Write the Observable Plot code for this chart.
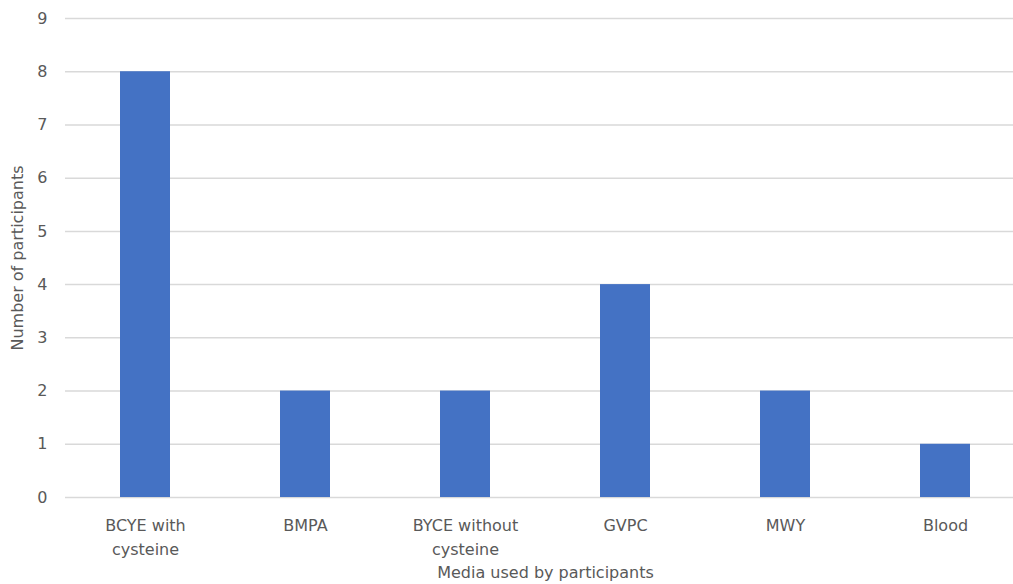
<!DOCTYPE html>
<html>
<head>
<meta charset="utf-8">
<script src="https://cdn.jsdelivr.net/npm/d3@7"></script>
<script src="https://cdn.jsdelivr.net/npm/@observablehq/plot@0.6"></script>
<style>
  html, body { margin: 0; padding: 0; background: #fff; }
  svg { display: block; }
</style>
</head>
<body>
<div id="chart"></div>
<script>
const categories = ["BCYE with\ncysteine", "BMPA", "BYCE without\ncysteine", "GVPC", "MWY", "Blood"];
const counts = [8, 2, 2, 4, 2, 1];
const yTicks = [0, 1, 2, 3, 4, 5, 6, 7, 8, 9];
const xTitle = ["Media used by participants"];

const data = categories.map((c, i) => ({category: c, count: counts[i]}));

const chart = Plot.plot({
  width: 1013,
  height: 584,
  marginLeft: 65,
  marginRight: 0,
  marginTop: 18,
  marginBottom: 87,
  style: {fontFamily: "DejaVu Sans", fontSize: "16px", color: "#595959", background: "#fff", overflow: "hidden"},
  x: {domain: categories, range: [65, 1025], paddingInner: 0.69, paddingOuter: 0.345, label: null},
  y: {domain: [0, 9]},
  marks: [
    Plot.ruleY(yTicks, {stroke: "#d9d9d9", strokeWidth: 1.5}),
    Plot.barY(data, {x: "category", y: "count", fill: "#4472C4"}),
    Plot.axisY(yTicks, {tickSize: 0, tickPadding: 18, tickFormat: "d", fontSize: 16, label: "Number of participants", labelAnchor: "center", labelArrow: "none", labelOffset: 54}),
    Plot.axisX({tickSize: 0, tickPadding: 16, fontSize: 16, lineHeight: 1.5, label: null}),
    Plot.text(xTitle, {frameAnchor: "bottom", dx: 6, dy: 80, fontSize: 16, lineAnchor: "bottom", fill: "#595959"})
  ]
});
document.getElementById("chart").appendChild(chart);
</script>
</body>
</html>
